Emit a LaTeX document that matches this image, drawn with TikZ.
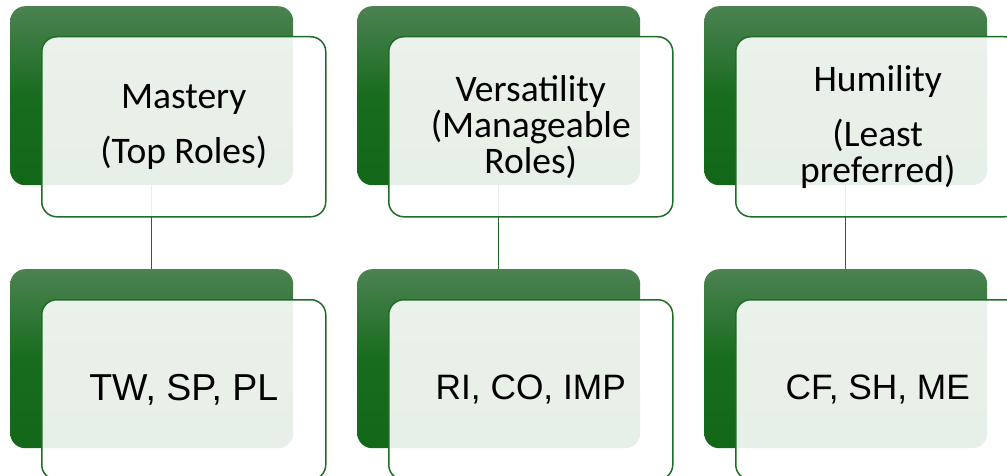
\documentclass[tikz,border=0pt]{standalone}
\usepackage{fontspec}
\setmainfont{Carlito}
\newfontfamily\arialfont{Liberation Sans}
\definecolor{gtop}{RGB}{76,130,82}
\definecolor{gmid}{RGB}{24,108,30}
\definecolor{gbot}{RGB}{18,104,24}
\definecolor{gline}{RGB}{30,108,38}
\begin{document}
\begin{tikzpicture}[x=1pt,y=-1pt,
  backbox/.style={rectangle, rounded corners=15pt, anchor=north west,
    minimum width=283pt, minimum height=179pt, inner sep=0pt, draw=none,
    top color=gtop, bottom color=gbot, middle color=gmid},
  frontbox/.style={rectangle, rounded corners=15pt, anchor=north west,
    minimum width=284pt, minimum height=180pt, inner sep=0pt,
    draw=gline, line width=1.5pt, fill=white, fill opacity=0.9, text opacity=1,
    align=center, text=black},
  toptext/.style={font=\fontsize{37.5}{36}\selectfont},
  bottext/.style={font=\arialfont\fontsize{#1}{40}\selectfont},
  conn/.style={draw=gline, line width=1.5pt}]
\useasboundingbox (0,0) rectangle (1007,476);
% back boxes
\node[backbox] (b1) at (10,6) {};
\node[backbox] (b2) at (357,6) {};
\node[backbox] (b3) at (704,6) {};
\node[backbox] (c1) at (10,269) {};
\node[backbox] (c2) at (357,269) {};
\node[backbox] (c3) at (704,269) {};
% connectors
\draw[conn] (b1.south) -- (c1.north);
\draw[conn] (b2.south) -- (c2.north);
\draw[conn] (b3.south) -- (c3.north);
% front boxes
\node[frontbox, toptext] (f1) at (41,36) {Mastery\\[19pt](Top Roles)};
\node[frontbox, toptext] (f2) at (388,36) {Versatility\\(Manageable\\Roles)};
\node[frontbox, toptext] (f3) at (735,36) {Humility\\[19pt](Least\\preferred)};
\node[frontbox, bottext=37.5] (g1) at (41,299) {TW, SP, PL};
\node[frontbox, bottext=35.3] (g2) at (388,299) {RI, CO, IMP};
\node[frontbox, bottext=35.3] (g3) at (735,299) {CF, SH, ME};
\end{tikzpicture}
\end{document}
